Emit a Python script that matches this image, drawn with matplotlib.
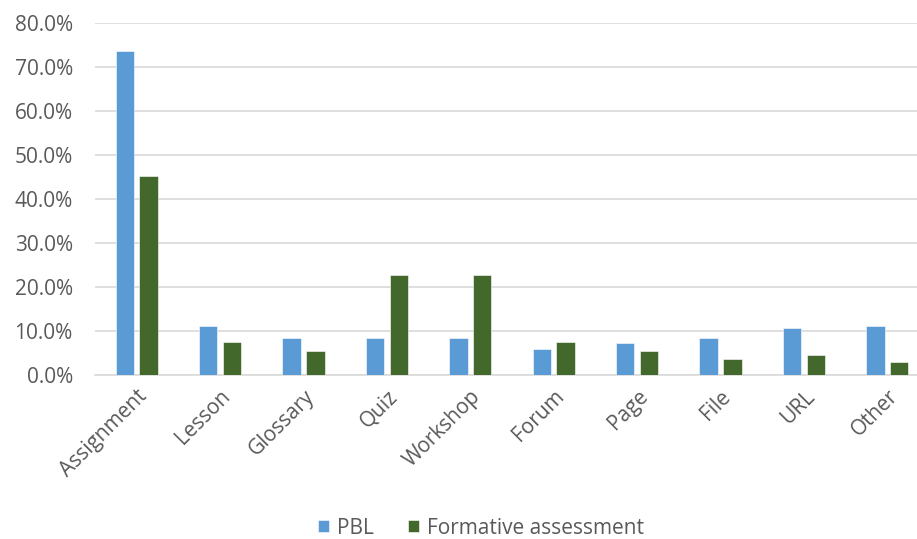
import matplotlib.pyplot as plt
import numpy as np
from matplotlib.ticker import FuncFormatter

categories = ['Assignment', 'Lesson', 'Glossary', 'Quiz', 'Workshop',
              'Forum', 'Page', 'File', 'URL', 'Other']
pbl = [73.5, 11.2, 8.3, 8.3, 8.3, 5.9, 7.3, 8.3, 10.6, 11.1]
formative = [45.3, 7.4, 5.5, 22.6, 22.6, 7.4, 5.4, 3.6, 4.5, 3.0]

plt.rcParams['font.family'] = ['Open Sans', 'DejaVu Sans']
grey = '#595959'
fs = 15

fig = plt.figure(figsize=(9.17, 5.39), dpi=100)
# right edge of the plot area runs past the figure, as in the cropped original
ax = fig.add_axes([95 / 917, 1 - 375 / 539, 834 / 917, (375 - 22.7) / 539])

x = np.arange(len(categories))
w = 0.22
ax.bar(x - 0.142, pbl, w, color='#5B9BD5', edgecolor='white', linewidth=0.4,
       label='PBL', zorder=3)
ax.bar(x + 0.142, formative, w, color='#43682B', edgecolor='white', linewidth=0.4,
       label='Formative assessment', zorder=3)

ax.set_xlim(-0.5, len(categories) - 0.5)
ax.set_ylim(0, 80)
ax.set_yticks(np.arange(0, 81, 10))
ax.yaxis.set_major_formatter(FuncFormatter(lambda v, p: '%.1f%%' % v))
ax.grid(axis='y', color='#D9D9D9', linewidth=1.2, zorder=0)
for s in ['top', 'right', 'left']:
    ax.spines[s].set_visible(False)
ax.spines['bottom'].set_color('#D9D9D9')
ax.spines['bottom'].set_linewidth(1.2)
ax.tick_params(axis='both', length=0, labelsize=fs, labelcolor=grey)
ax.tick_params(axis='y', pad=16)
ax.set_xticks(x)
ax.set_xticklabels(categories, rotation=45, ha='right', rotation_mode='anchor')
ax.tick_params(axis='x', pad=8)

fig.legend(loc='center', bbox_to_anchor=(481 / 917, 1 - 528 / 539), ncol=2,
           frameon=False, fontsize=fs, labelcolor=grey, handlelength=0.55,
           handleheight=0.55, handletextpad=0.4, columnspacing=1.6)

fig.savefig('out.png', dpi=100)
